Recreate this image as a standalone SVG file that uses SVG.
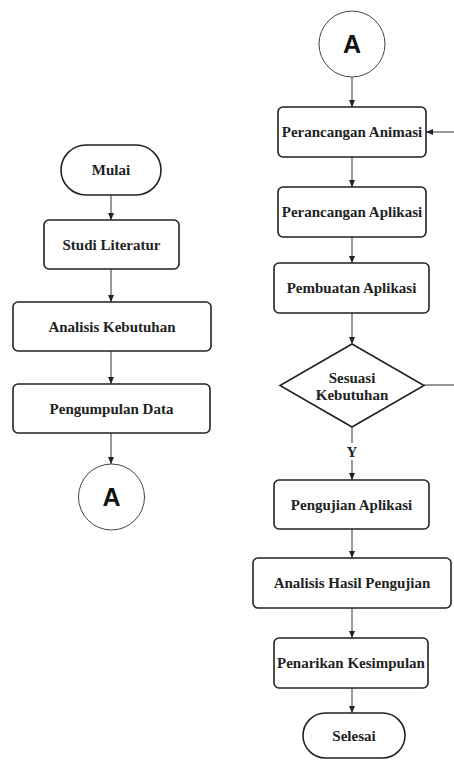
<svg xmlns="http://www.w3.org/2000/svg" width="454" height="760" viewBox="0 0 454 760">
<defs>
<marker id="arr" markerWidth="8" markerHeight="8" refX="7" refY="4" orient="auto" markerUnits="userSpaceOnUse">
<path d="M0,1 L7,4 L0,7 Z" fill="#222"/>
</marker>
<style>
.box{fill:#fff;stroke:#222;stroke-width:1.6}
.circ{fill:#fff;stroke:#444;stroke-width:1}
.lbl{font-family:'Liberation Serif','DejaVu Serif',serif;font-weight:700;font-size:15px;fill:#222;text-anchor:middle;dominant-baseline:central}
.big{font-family:'Liberation Sans',Arial,sans-serif;font-weight:700;font-size:25px;fill:#111;text-anchor:middle;dominant-baseline:central}
.con{fill:none;stroke:#333;stroke-width:1}
</style>
</defs>
<rect width="454" height="760" fill="#fff"/>
<g id="connectors">
<line class="con" x1="111" y1="195" x2="111" y2="220" marker-end="url(#arr)"/>
<line class="con" x1="111" y1="269" x2="111" y2="302" marker-end="url(#arr)"/>
<line class="con" x1="111" y1="351" x2="111" y2="384" marker-end="url(#arr)"/>
<line class="con" x1="111" y1="433" x2="111" y2="464" marker-end="url(#arr)"/>
<line class="con" x1="352" y1="77" x2="352" y2="107" marker-end="url(#arr)"/>
<line class="con" x1="352" y1="157" x2="352" y2="187" marker-end="url(#arr)"/>
<line class="con" x1="352" y1="237" x2="352" y2="263" marker-end="url(#arr)"/>
<line class="con" x1="352" y1="313" x2="352" y2="344" marker-end="url(#arr)"/>
<line class="con" x1="352" y1="427" x2="352" y2="443"/>
<line class="con" x1="352" y1="460" x2="352" y2="480" marker-end="url(#arr)"/>
<line class="con" x1="352" y1="529" x2="352" y2="558" marker-end="url(#arr)"/>
<line class="con" x1="352" y1="608" x2="352" y2="638" marker-end="url(#arr)"/>
<line class="con" x1="352" y1="688" x2="352" y2="713" marker-end="url(#arr)"/>
<line class="con" x1="424" y1="385" x2="454" y2="385"/>
<line class="con" x1="454" y1="132" x2="426" y2="132" marker-end="url(#arr)"/>
<text class="lbl" x="352" y="452">Y</text>
</g>
<g id="mulai">
<rect class="box" x="61" y="145" width="100" height="50" rx="25" ry="25"/>
<text class="lbl" x="111" y="170">Mulai</text>
</g>
<g id="studi-literatur">
<rect class="box" x="44" y="220" width="135" height="49" rx="5"/>
<text class="lbl" x="111.5" y="244.5">Studi Literatur</text>
</g>
<g id="analisis-kebutuhan">
<rect class="box" x="13" y="302" width="198" height="49" rx="5"/>
<text class="lbl" x="112" y="326.5">Analisis Kebutuhan</text>
</g>
<g id="pengumpulan-data">
<rect class="box" x="13" y="384" width="197" height="49" rx="5"/>
<text class="lbl" x="111.5" y="408.5">Pengumpulan Data</text>
</g>
<g id="konektor-a1">
<circle class="circ" cx="111.5" cy="497" r="33"/>
<text class="big" x="111.5" y="497">A</text>
</g>
<g id="konektor-a2">
<circle class="circ" cx="352" cy="44" r="33"/>
<text class="big" x="352" y="44">A</text>
</g>
<g id="perancangan-animasi">
<rect class="box" x="278" y="107" width="148" height="50" rx="5"/>
<text class="lbl" x="352" y="132">Perancangan Animasi</text>
</g>
<g id="perancangan-aplikasi">
<rect class="box" x="278" y="187" width="148" height="50" rx="5"/>
<text class="lbl" x="352" y="212">Perancangan Aplikasi</text>
</g>
<g id="pembuatan-aplikasi">
<rect class="box" x="274" y="263" width="155" height="50" rx="5"/>
<text class="lbl" x="351.5" y="288">Pembuatan Aplikasi</text>
</g>
<g id="sesuai-kebutuhan">
<polygon class="box" points="352,344 424,385.5 352,427 280,385.5"/>
<text class="lbl" x="352" y="378">Sesuasi</text>
<text class="lbl" x="352" y="395">Kebutuhan</text>
</g>
<g id="pengujian-aplikasi">
<rect class="box" x="274" y="480" width="155" height="49" rx="5"/>
<text class="lbl" x="351.5" y="504.5">Pengujian Aplikasi</text>
</g>
<g id="analisis-hasil">
<rect class="box" x="253" y="558" width="198" height="50" rx="5"/>
<text class="lbl" x="352" y="583">Analisis Hasil Pengujian</text>
</g>
<g id="penarikan-kesimpulan">
<rect class="box" x="274" y="638" width="154" height="50" rx="5"/>
<text class="lbl" x="351" y="663">Penarikan Kesimpulan</text>
</g>
<g id="selesai">
<rect class="box" x="303" y="713" width="102" height="45" rx="22.5" ry="22.5"/>
<text class="lbl" x="354" y="735.5">Selesai</text>
</g>
</svg>
